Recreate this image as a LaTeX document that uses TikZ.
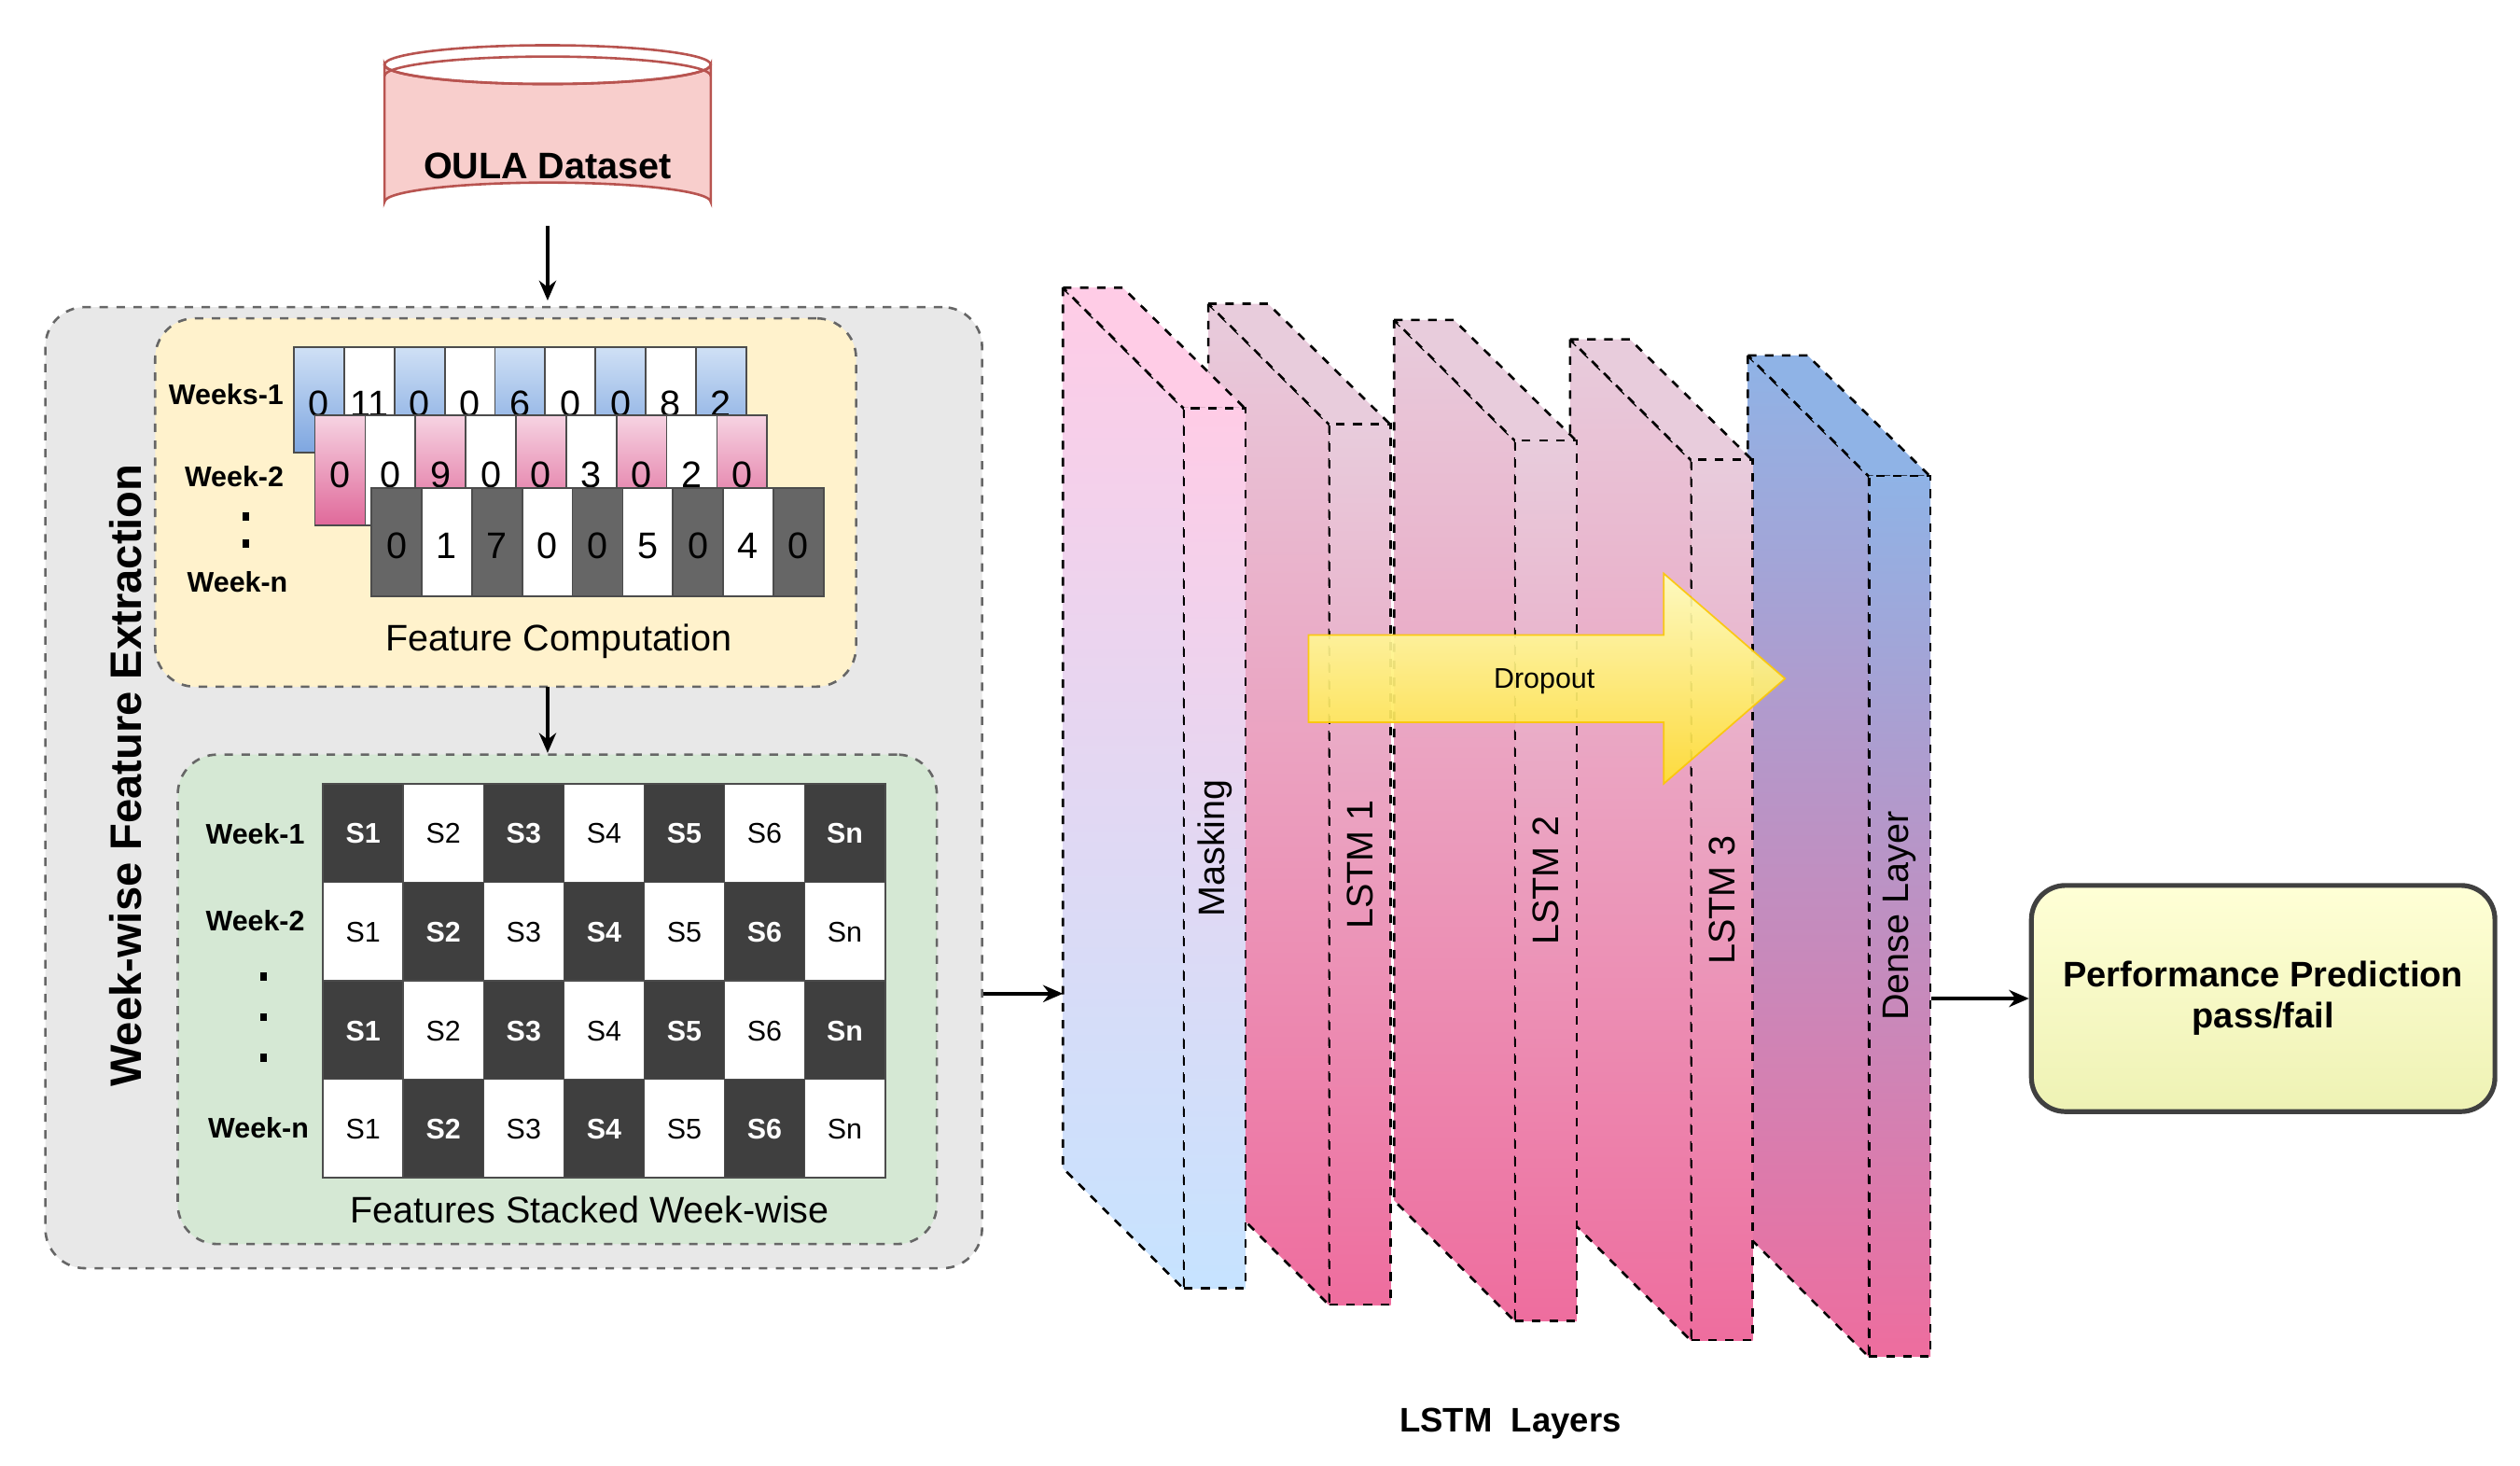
\documentclass[tikz,border=0pt]{standalone}
\usepackage{fontspec}
\setmainfont{Liberation Sans}
\usetikzlibrary{positioning,arrows.meta}

\definecolor{boxgray}{HTML}{E8E8E8}
\definecolor{boxyellow}{HTML}{FFF2CC}
\definecolor{boxgreen}{HTML}{D5E8D4}
\definecolor{cellblueT}{HTML}{CFE0F5}
\definecolor{cellblueB}{HTML}{7EA6E0}
\definecolor{cellpinkT}{HTML}{F6D3E2}
\definecolor{cellpinkB}{HTML}{E0699A}
\definecolor{celldark}{HTML}{666666}
\definecolor{sdark}{HTML}{3F3F3F}
\definecolor{lstmT}{HTML}{E8CCDC}
\definecolor{lstmB}{HTML}{EE6D9E}
\definecolor{maskT}{HTML}{FFCCE6}
\definecolor{maskB}{HTML}{C6E3FF}
\definecolor{denseT}{HTML}{8FB3E6}
\definecolor{dbfill}{HTML}{F8CECC}
\definecolor{dbline}{HTML}{B85450}
\definecolor{predT}{HTML}{FFFFD6}
\definecolor{predB}{HTML}{EEF2B4}

% one layer slab: name, back x, back y, top colour, bottom colour, label
\newcommand{\layerslab}[6]{%
  \path[slab,top color=#4,bottom color=#5] (#2,#3) -- (#2,#3+545) -- (#2+75,#3+620) -- (#2+75,#3+75) -- cycle;
  \path[slab,fill=#4] (#2,#3) -- (#2+37,#3) -- (#2+113,#3+75) -- (#2+75,#3+75) -- cycle;
  \node[slab,top color=#4,bottom color=#5,minimum width=0.76cm,minimum height=10.9cm] (#1) at (#2+94,#3+347) {};
  \node[rotate=90,font=\fontsize{13}{15}\selectfont] at (#1) {#6};
}

\begin{document}
\begin{tikzpicture}[x=0.02cm,y=-0.02cm,>={Stealth[length=7pt,width=6pt]},line width=0.4mm,
  slab/.style={draw=black,dashed,line width=0.3mm,inner sep=0pt},
  panel/.style={draw=black!60,dashed,rounded corners=14pt,line width=0.3mm},
  cell/.style={draw=black!70,line width=0.2mm},
  wlabel/.style={font=\fontsize{10}{12}\selectfont\bfseries}]
\useasboundingbox (0,0) rectangle (1560,907);

% dataset
\path[fill=dbfill,draw=dbline,line width=0.3mm]
  (238,40) -- (238,125) arc[start angle=180,end angle=360,x radius=101,y radius=12]
  -- (440,40) arc[start angle=0,end angle=180,x radius=101,y radius=12] -- cycle;
\draw[dbline,line width=0.3mm] (339,40) ellipse[x radius=101,y radius=12];
\draw[dbline,line width=0.3mm] (238,47) arc[start angle=180,end angle=360,x radius=101,y radius=12];
\node[font=\fontsize{13}{15}\selectfont\bfseries] (oula) at (339,103) {OULA Dataset};
\coordinate (oula_bot) at (339,140);
\coordinate (extract_top) at (339,186);
\coordinate (compute_bot) at (339,425);
\coordinate (stacked_top) at (339,466);

% feature extraction panels
\node[panel,fill=boxgray,minimum width=11.6cm,minimum height=11.9cm] (extract) at (318,487.5) {};
\node[rotate=90,font=\fontsize{15.5}{17}\selectfont\bfseries] at (78,480) {Week-wise Feature Extraction};
\node[panel,fill=boxyellow,minimum width=8.68cm,minimum height=4.56cm] (compute) at (313,311) {};
\node[panel,fill=boxgreen,minimum width=9.4cm,minimum height=6.06cm] (stacked) at (345,618.5) {};
\node[font=\fontsize{13}{15}\selectfont] at (346,397) {Feature Computation};
\node[font=\fontsize{13}{15}\selectfont] at (365,749) {Features Stacked Week-wise};

% weekly feature rows
\foreach \v [count=\i from 0] in {0,11,0,0,6,0,0,8,2} {
  \pgfmathsetmacro\xa{182+31.1*\i}
  \ifodd\i \path[cell,fill=white] (\xa,215) rectangle ++(31.1,65);
  \else \path[cell,top color=cellblueT,bottom color=cellblueB] (\xa,215) rectangle ++(31.1,65); \fi
  \node[font=\fontsize{13}{15}\selectfont] at (\xa+15.5,250) {\v};
}
\foreach \v [count=\i from 0] in {0,0,9,0,0,3,0,2,0} {
  \pgfmathsetmacro\xa{195+31.1*\i}
  \ifodd\i \path[cell,fill=white] (\xa,257) rectangle ++(31.1,68);
  \else \path[cell,top color=cellpinkT,bottom color=cellpinkB] (\xa,257) rectangle ++(31.1,68); \fi
  \node[font=\fontsize{13}{15}\selectfont] at (\xa+15.5,294) {\v};
}
\foreach \v [count=\i from 0] in {0,1,7,0,0,5,0,4,0} {
  \pgfmathsetmacro\xa{230+31.1*\i}
  \ifodd\i \path[cell,fill=white] (\xa,302) rectangle ++(31.1,67);
  \else \path[cell,fill=celldark] (\xa,302) rectangle ++(31.1,67); \fi
  \node[font=\fontsize{13}{15}\selectfont] at (\xa+15.5,338) {\v};
}
\node[wlabel] at (140,244) {Weeks-1};
\node[wlabel] at (145,295) {Week-2};
\node[wlabel] at (147,360) {Week-n};
\foreach \y in {322,339} \fill (150,\y) rectangle ++(4,-5);

% stacked week-wise grid
\foreach \r/\yc [count=\k from 0] in {0/485,1/546,0/607,1/668} {
  \foreach \s [count=\c from 0] in {S1,S2,S3,S4,S5,S6,Sn} {
    \pgfmathtruncatemacro\dk{mod(\c+\r,2)}
    \pgfmathsetmacro\xa{200+49.7*\c}
    \ifnum\dk=0
      \path[cell,fill=sdark] (\xa,\yc) rectangle ++(49.7,61);
      \node[text=white,font=\fontsize{10}{12}\selectfont\bfseries] at (\xa+24.8,\yc+31) {\s};
    \else
      \path[cell,fill=white] (\xa,\yc) rectangle ++(49.7,61);
      \node[font=\fontsize{10}{12}\selectfont] at (\xa+24.8,\yc+31) {\s};
    \fi
  }
}
\node[wlabel] at (158,516) {Week-1};
\node[wlabel] at (158,570) {Week-2};
\node[wlabel] at (160,698) {Week-n};
\foreach \y in {607,632,657} \fill (161,\y) rectangle ++(4,-5);

% LSTM layers, back to front
\layerslab{dense}{1082}{220}{denseT}{lstmB}{Dense Layer}
\layerslab{lstm_3}{972}{210}{lstmT}{lstmB}{LSTM 3}
\layerslab{lstm_2}{863}{198}{lstmT}{lstmB}{LSTM 2}
\layerslab{lstm_1}{748}{188}{lstmT}{lstmB}{LSTM 1}
\layerslab{masking}{658}{178}{maskT}{maskB}{Masking}
\coordinate (mask_in) at (658,615);

% dropout
\path[top color=yellow!25,bottom color=yellow!70!orange!80,draw=yellow!60!orange,line width=0.2mm,opacity=0.92]
  (810,393) -- (1030,393) -- (1030,355) -- (1105,420) -- (1030,485) -- (1030,447) -- (810,447) -- cycle;
\node[font=\fontsize{10}{12}\selectfont] (dropout) at (956,422) {Dropout};

% prediction
\node[draw=black!75,line width=0.6mm,rounded corners=12pt,minimum width=5.74cm,minimum height=2.8cm,
  top color=predT,bottom color=predB,align=center,font=\fontsize{12.5}{14.5}\selectfont\bfseries]
  (predict) at (1401,618) {Performance Prediction\\pass/fail};
\node[font=\fontsize{12}{14}\selectfont\bfseries] at (935,881) {LSTM~~Layers};

\path[->]
  (oula_bot) edge (extract_top)
  (compute_bot) edge (stacked_top)
  (extract.east |- mask_in) edge (mask_in)
  (dense.east |- predict.west) edge (predict.west);
\end{tikzpicture}
\end{document}
